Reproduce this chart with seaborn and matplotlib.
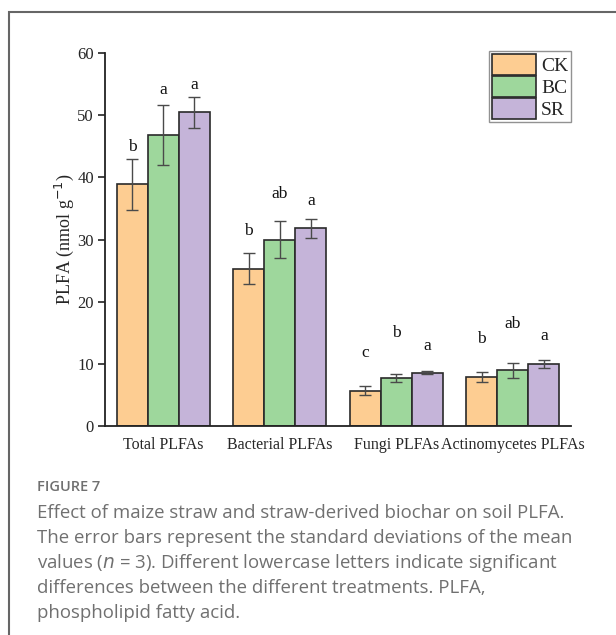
import numpy as np
import pandas as pd
import matplotlib
matplotlib.use("Agg")
import matplotlib.pyplot as plt
import seaborn as sns
from matplotlib.patches import Rectangle

categories = ["Total PLFAs", "Bacterial PLFAs", "Fungi PLFAs", "Actinomycetes PLFAs"]
treatments = ["CK", "BC", "SR"]
ck_mean = [38.9, 25.3, 5.7, 7.9]
bc_mean = [46.8, 30.0, 7.7, 9.0]
sr_mean = [50.5, 31.8, 8.6, 10.0]
ck_sd = [4.1, 2.5, 0.7, 0.8]
bc_sd = [4.8, 3.0, 0.7, 1.2]
sr_sd = [2.5, 1.5, 0.3, 0.6]
ck_letters = ["b", "b", "c", "b"]
bc_letters = ["a", "ab", "b", "ab"]
sr_letters = ["a", "a", "a", "a"]
ck_letter_y = [44.9, 31.4, 11.7, 14.0]
bc_letter_y = [54.0, 37.3, 15.0, 16.4]
sr_letter_y = [54.8, 36.2, 12.9, 14.4]
colors = ["#FDCD92", "#9ED79C", "#C5B4D9"]

sns.set_style("ticks")
plt.rcParams["font.family"] = ["Liberation Serif", "DejaVu Serif"]

rows = []
for t, means, sds in zip(treatments, [ck_mean, bc_mean, sr_mean], [ck_sd, bc_sd, sr_sd]):
    for c, m, s in zip(categories, means, sds):
        rows.append({"category": c, "treatment": t, "value": m, "sd": s})
df = pd.DataFrame(rows)

fig = plt.figure(figsize=(6.16, 6.35), dpi=100)
ax = fig.add_axes([105/616, 1-426/635, (571-105)/616, (426-53)/635])

sns.barplot(data=df, x="category", y="value", hue="treatment", order=categories,
            hue_order=treatments, palette=colors, errorbar=None, width=0.8,
            edgecolor="#2a2a2a", linewidth=1.2, saturation=1, ax=ax)

sd_lists = [ck_sd, bc_sd, sr_sd]
letter_lists = [ck_letters, bc_letters, sr_letters]
letter_ys = [ck_letter_y, bc_letter_y, sr_letter_y]
for cont, sds, lets, lys in zip(ax.containers, sd_lists, letter_lists, letter_ys):
    for bar, s, l, ly in zip(cont, sds, lets, lys):
        xc = bar.get_x() + bar.get_width() / 2
        h = bar.get_height()
        ax.errorbar(xc, h, yerr=s, fmt="none", ecolor="#4a4a4a", elinewidth=1.0,
                    capsize=4, capthick=1.0, zorder=5)
        ax.text(xc, ly, l, ha="center", va="center", fontsize=12.5, color="#111111")

ax.set_xlim(-0.5, 3.5)
ax.set_ylim(0, 60)
ax.set_yticks([0, 10, 20, 30, 40, 50, 60])
ax.tick_params(axis="y", labelsize=12, length=5, width=1.2, color="#222222", pad=3)
ax.tick_params(axis="x", labelsize=11.5, length=0, pad=8)
for sp in ["top", "right"]:
    ax.spines[sp].set_visible(False)
for sp in ["left", "bottom"]:
    ax.spines[sp].set_linewidth(1.3)
    ax.spines[sp].set_color("#222222")
ax.set_xlabel("")
ax.set_ylabel("PLFA (nmol g$^{-1}$)", fontsize=13, labelpad=1)

leg = ax.legend(loc="upper right", bbox_to_anchor=(1.0, 1.005), fontsize=14,
                handlelength=2.25, handleheight=1.25, handletextpad=0.25,
                labelspacing=0.06, borderpad=0.15, borderaxespad=0.0,
                fancybox=False, frameon=True, edgecolor="#777777")
leg.get_frame().set_linewidth(1.0)
for h in leg.legend_handles:
    h.set_edgecolor("#2a2a2a")
    h.set_linewidth(1.2)

# Outer frame
fig.patches.append(Rectangle((9/616, -0.1), 1.2, 1 - 12.5/635 + 0.1, transform=fig.transFigure,
                             fill=False, edgecolor="#666666", linewidth=1.5))

cap_color = "#707070"
fig.text(37/616, 1-487/635, "FIGURE 7", fontsize=10.5, color=cap_color,
         family=["Open Sans", "DejaVu Sans"], weight="semibold", va="center")
lines = [
    "Effect of maize straw and straw-derived biochar on soil PLFA.",
    "The error bars represent the standard deviations of the mean",
    "values ($n$ = 3). Different lowercase letters indicate significant",
    "differences between the different treatments. PLFA,",
    "phospholipid fatty acid.",
]
ys = [513, 538, 563, 588, 613]
for ln, y in zip(lines, ys):
    fig.text(37/616, 1-y/635, ln, fontsize=13.4, color=cap_color,
             family=["Open Sans", "DejaVu Sans"], va="center")

fig.savefig("out.png", dpi=100)
